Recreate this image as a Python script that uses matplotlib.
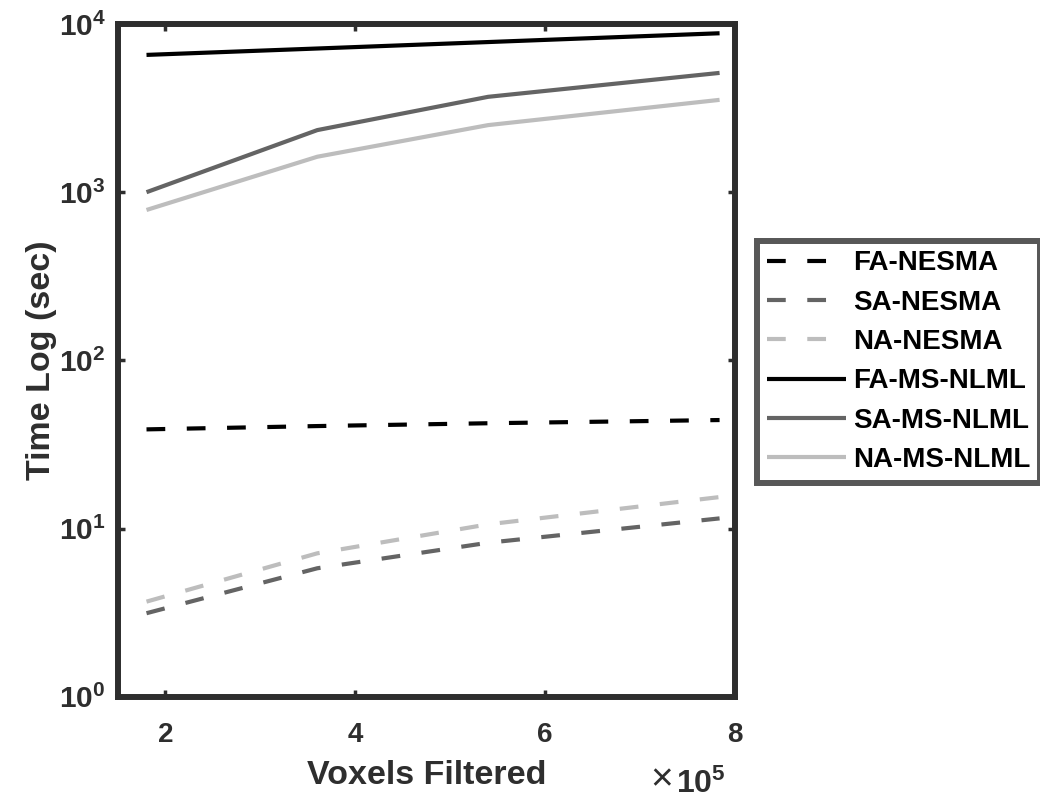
import matplotlib
matplotlib.use("Agg")
import matplotlib.pyplot as plt

# ---- data (x in units of 1e5 voxels) ----
x = [1.8, 3.6, 5.4, 7.84]
fa_nesma = [38.9, 40.7, 42.3, 44.2]
sa_nesma = [3.14, 5.81, 8.24, 11.5]
na_nesma = [3.68, 7.13, 10.6, 15.4]
fa_msnlml = [6550, 7150, 7810, 8810]
sa_msnlml = [1000, 2340, 3690, 5120]
na_msnlml = [784, 1625, 2505, 3540]

series_names = ["FA-NESMA", "SA-NESMA", "NA-NESMA",
                "FA-MS-NLML", "SA-MS-NLML", "NA-MS-NLML"]
xticks = [2, 4, 6, 8]
xtick_labels = ["2", "4", "6", "8"]
yticks = [1, 10, 100, 1000, 10000]
ytick_labels = [r"$\mathbf{10^{0}}$", r"$\mathbf{10^{1}}$", r"$\mathbf{10^{2}}$",
                r"$\mathbf{10^{3}}$", r"$\mathbf{10^{4}}$"]

plt.rcParams["font.family"] = ["Liberation Sans", "DejaVu Sans"]
plt.rcParams["font.weight"] = "bold"
plt.rcParams["mathtext.fontset"] = "custom"
plt.rcParams["mathtext.rm"] = "Liberation Sans:bold"
plt.rcParams["mathtext.bf"] = "Liberation Sans:bold"
plt.rcParams["mathtext.it"] = "Liberation Sans:bold"
plt.rcParams["lines.scale_dashes"] = False

BLACK = "#000000"
DARK = "#646464"
LIGHT = "#bdbdbd"
FRAME = "#2e2e2e"

fig = plt.figure(figsize=(10.4, 8), dpi=100)
ax = fig.add_axes([0.1135, 0.129, 0.593, 0.841])

dash = (0, (13.5, 15.5))
lw = 3.0
series = [fa_nesma, sa_nesma, na_nesma, fa_msnlml, sa_msnlml, na_msnlml]
colors = [BLACK, DARK, LIGHT, BLACK, DARK, LIGHT]
styles = [dash, dash, dash, "-", "-", "-"]
for ys, c, ls, name in zip(series, colors, styles, series_names):
    ax.plot(x, ys, color=c, linestyle=ls, linewidth=lw, label=name,
            solid_capstyle="butt", dash_capstyle="butt")

ax.set_yscale("log")
ax.set_xlim(1.5, 8)
ax.set_ylim(1, 1e4)
ax.set_xticks(xticks)
ax.set_xticklabels(xtick_labels)
ax.set_yticks(yticks)
ax.set_yticklabels(ytick_labels)
ax.minorticks_off()
ax.tick_params(axis="both", which="both", direction="in", length=5, width=2.5,
               color=FRAME, top=True, right=True)
ax.tick_params(axis="x", pad=18, labelsize=20)
ax.tick_params(axis="y", pad=9, labelsize=21.5)
for sp in ax.spines.values():
    sp.set_linewidth(4.3)
    sp.set_color(FRAME)

ax.set_xlabel("Voxels Filtered", fontsize=24.5, fontweight="bold", color=FRAME, labelpad=9)
ax.set_ylabel("Time Log (sec)", fontsize=24.5, fontweight="bold", color=FRAME, labelpad=1)
for lab in ax.get_xticklabels() + ax.get_yticklabels():
    lab.set_color(FRAME)

# x-axis exponent note
fig.text(673 / 1040, 1 - 790 / 800, "×", ha="right", va="baseline",
         fontsize=28, fontweight="normal", color=FRAME)
fig.text(676 / 1040, 1 - 793 / 800, r"$\mathbf{10^{5}}$", ha="left", va="baseline",
         fontsize=23, color=FRAME)

leg = fig.legend(loc="center left", bbox_to_anchor=(0.728, 0.548),
                 frameon=True, fancybox=False, handlelength=2.85,
                 handletextpad=0.25, borderpad=0.35, labelspacing=0.48,
                 borderaxespad=0.0,
                 prop={"weight": "bold", "size": 20})
leg.get_frame().set_edgecolor(FRAME)
leg.get_frame().set_linewidth(4.3)

fig.savefig("out.png", dpi=100)
